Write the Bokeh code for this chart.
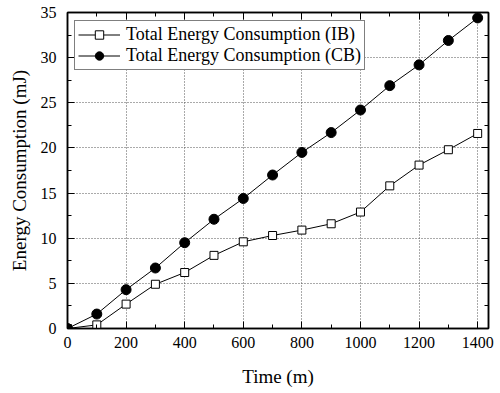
from bokeh.plotting import figure
from bokeh.models import Range1d, LinearAxis, SingleIntervalTicker, Legend, LegendItem
from bokeh.embed import file_html
from bokeh.resources import INLINE

time_m = [0, 100, 200, 300, 400, 500, 600, 700, 800, 900, 1000, 1100, 1200, 1300, 1400]
energy_ib = [0, 0.4, 2.7, 4.9, 6.2, 8.1, 9.6, 10.3, 10.9, 11.6, 12.9, 15.8, 18.1, 19.8, 21.6]
energy_cb = [0, 1.6, 4.3, 6.7, 9.5, 12.1, 14.4, 17.0, 19.5, 21.7, 24.2, 26.9, 29.2, 31.9, 34.4]
label_ib = "Total Energy Consumption (IB)"
label_cb = "Total Energy Consumption (CB)"

FONT = "'Liberation Serif', 'Times New Roman', serif"

p = figure(frame_width=421, frame_height=316, output_backend="svg", toolbar_location=None,
           x_range=Range1d(0, 1437), y_range=Range1d(0, 35),
           min_border_left=67, min_border_right=10, min_border_top=12, min_border_bottom=40)
p.background_fill_color = "white"
p.outline_line_color = "black"
p.outline_line_width = 1.5

xt = SingleIntervalTicker(interval=200, num_minor_ticks=2)
yt = SingleIntervalTicker(interval=5, num_minor_ticks=2)

def style_axis(ax, labels=True):
    ax.axis_line_color = "black"
    ax.axis_line_width = 1.5
    ax.major_tick_in = 7
    ax.major_tick_out = 0
    ax.minor_tick_in = 4
    ax.minor_tick_out = 0
    ax.major_tick_line_color = "black"
    ax.minor_tick_line_color = "black"
    ax.major_label_text_font = FONT
    ax.major_label_text_font_size = "16px"
    ax.major_label_text_color = "black"
    ax.axis_label_text_font = FONT
    ax.axis_label_text_font_size = "19px"
    ax.axis_label_text_font_style = "normal"
    ax.axis_label_text_color = "black"
    if not labels:
        ax.major_label_text_alpha = 0
        ax.major_label_text_font_size = "1px"
        ax.major_label_standoff = 0

p.xaxis.ticker = xt
p.yaxis.ticker = yt
p.xaxis.axis_label = "Time (m)"
p.yaxis.axis_label = "Energy Consumption (mJ)"
style_axis(p.xaxis[0])
style_axis(p.yaxis[0])
p.xaxis.major_label_standoff = 8
p.yaxis.major_label_standoff = 11
p.xaxis.axis_label_standoff = 15
p.yaxis.axis_label_standoff = 8

ax_top = LinearAxis(ticker=xt)
style_axis(ax_top, labels=False)
p.add_layout(ax_top, "above")
ax_right = LinearAxis(ticker=yt)
style_axis(ax_right, labels=False)
p.add_layout(ax_right, "right")

p.xgrid.ticker = xt
p.ygrid.ticker = yt
for g in (p.xgrid[0], p.ygrid[0]):
    g.grid_line_color = "#555555"
    g.grid_line_dash = "1 2"
    g.grid_line_width = 1

l1 = p.line(time_m, energy_ib, line_color="black", line_width=1)
m1 = p.scatter(time_m, energy_ib, marker="square", size=8, fill_color="white",
               line_color="black", line_width=1)
l2 = p.line(time_m, energy_cb, line_color="black", line_width=1)
m2 = p.scatter(time_m, energy_cb, marker="circle", size=10, fill_color="black",
               line_color="black", line_width=1)

legend = Legend(items=[LegendItem(label=label_ib, renderers=[l1, m1]),
                       LegendItem(label=label_cb, renderers=[l2, m2])],
                location=(7, 258))
legend.label_text_font = FONT
legend.label_text_font_size = "18px"
legend.label_text_color = "black"
legend.border_line_color = "black"
legend.border_line_width = 1
legend.glyph_width = 42
legend.glyph_height = 21
legend.label_height = 21
legend.spacing = 0
legend.padding = 3
legend.margin = 0
legend.label_standoff = 6
legend.background_fill_alpha = 1
p.add_layout(legend)

open("out.html", "w").write(file_html(p, INLINE))
